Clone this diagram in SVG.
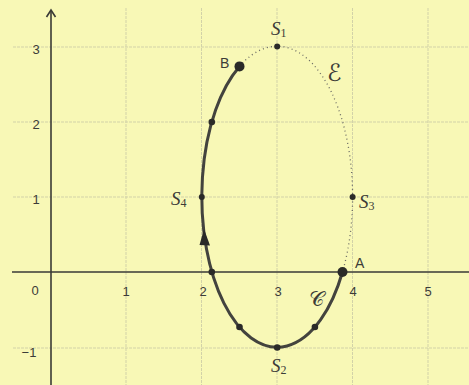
<svg xmlns="http://www.w3.org/2000/svg" width="469" height="385" viewBox="0 0 469 385">
<style>
.grid{stroke:#d2d2a8;stroke-width:1;stroke-dasharray:3 1;fill:none}
.axis{stroke:#3a3a36;stroke-width:1.6;fill:none}
.tick{font-family:"Liberation Sans",Arial,sans-serif;font-size:13px;fill:#3c3c38;text-anchor:middle}
.lbl{font-family:"Liberation Serif","Times New Roman",serif;font-style:italic;font-size:19px;fill:#3c3c38}
.sub{font-style:normal;font-size:12px}
.pt{font-family:"Liberation Sans",Arial,sans-serif;font-size:14px;fill:#3c3c38}
.dot{fill:#2a2a28}
.cal{font-family:"DejaVu Serif","DejaVu Sans",serif;fill:#3c3c38}
</style>
<rect width="469" height="385" fill="#f8f8b6"/>
<g id="grid">
<line class="grid" x1="126" y1="8" x2="126" y2="385"/>
<line class="grid" x1="201.5" y1="8" x2="201.5" y2="385"/>
<line class="grid" x1="277" y1="8" x2="277" y2="385"/>
<line class="grid" x1="352.5" y1="8" x2="352.5" y2="385"/>
<line class="grid" x1="428" y1="8" x2="428" y2="385"/>
<line class="grid" x1="13" y1="47" x2="469" y2="47"/>
<line class="grid" x1="13" y1="122" x2="469" y2="122"/>
<line class="grid" x1="13" y1="197" x2="469" y2="197"/>
<line class="grid" x1="13" y1="348" x2="469" y2="348"/>
</g>
<g id="axes">
<line class="axis" x1="12" y1="272" x2="469" y2="272"/>
<line class="axis" x1="51" y1="10" x2="51" y2="385"/>
<polyline class="axis" points="46.5,17 51,10 55.5,17"/>
</g>
<g id="ticks">
<text class="tick" x="36" y="54">3</text>
<text class="tick" x="36" y="129">2</text>
<text class="tick" x="36" y="204">1</text>
<text class="tick" x="35" y="295">0</text>
<text class="tick" x="29" y="357">−1</text>
<text class="tick" x="126" y="296">1</text>
<text class="tick" x="203" y="296">2</text>
<text class="tick" x="278" y="296">3</text>
<text class="tick" x="353" y="296">4</text>
<text class="tick" x="428" y="296">5</text>
</g>
<g id="connectors">
<path id="ellipse-E" d="M239.5,66.4 A75.4,150.5 0 0 1 342.5,272" fill="none" stroke="#6a6a64" stroke-width="1.3" stroke-dasharray="1 3.2"/>
<path id="curve-C" d="M342.5,272 A75.4,150.5 0 1 1 239.5,66.4" fill="none" stroke="#43433e" stroke-width="3"/>
<polygon points="204,229 199.5,245 210,245.5" fill="#2a2a28"/>
</g>
<g id="points">
<circle class="dot" cx="211.8" cy="122" r="3.3"/>
<circle class="dot" cx="211.8" cy="272" r="3.3"/>
<circle class="dot" cx="239.5" cy="327" r="3.3"/>
<circle class="dot" cx="314.9" cy="327" r="3.3"/>
<circle class="dot" cx="277.2" cy="347.5" r="3.3"/>
<circle class="dot" cx="201.8" cy="197" r="3"/>
<circle class="dot" cx="277.2" cy="46.5" r="3"/>
<circle class="dot" cx="352.6" cy="197" r="3"/>
<circle class="dot" cx="342.5" cy="272" r="5"/>
<circle class="dot" cx="239.5" cy="66.4" r="5"/>
</g>
<g id="labels">
<text class="lbl" x="271" y="35">S<tspan class="sub" dy="2">1</tspan></text>
<text class="lbl" x="271" y="372">S<tspan class="sub" dy="2">2</tspan></text>
<text class="lbl" x="359" y="208">S<tspan class="sub" dy="2">3</tspan></text>
<text class="lbl" x="171" y="205">S<tspan class="sub" dy="2">4</tspan></text>
<text class="pt" x="220" y="68">B</text>
<text class="pt" x="355" y="268">A</text>
<text class="cal" x="327" y="81" font-size="24">ℰ</text>
<text class="cal" x="309" y="306" font-size="21">𝒞</text>
</g>
</svg>
